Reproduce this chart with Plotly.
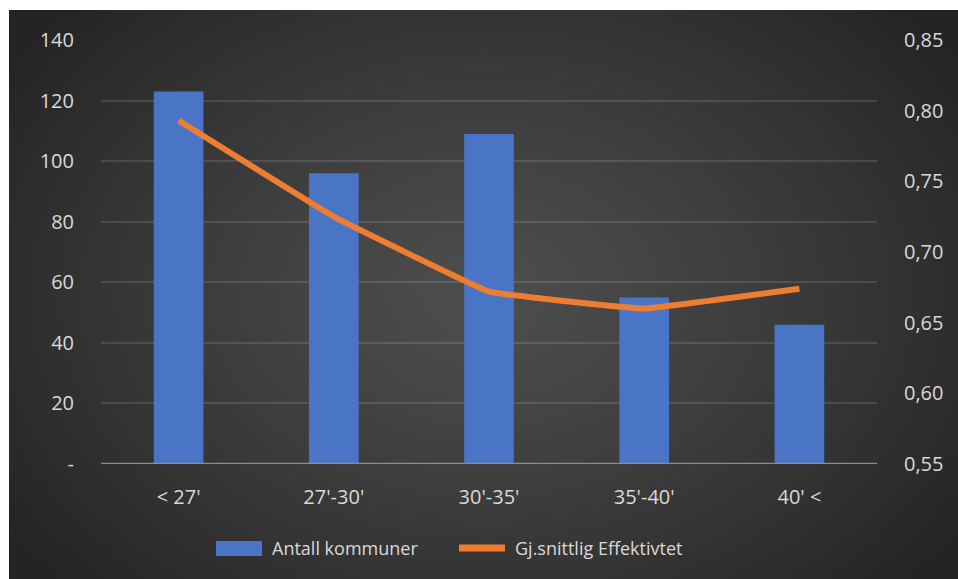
import base64, struct, zlib
import numpy as np
import plotly.graph_objects as go

categories = ["< 27'", "27'-30'", "30'-35'", "35'-40'", "40' <"]
antall_kommuner = [123, 96, 109, 55, 46]
effektivitet = [0.793, 0.725, 0.672, 0.660, 0.674]
left_ticks = [0, 20, 40, 60, 80, 100, 120, 140]
left_labels = ["-", "20", "40", "60", "80", "100", "120", "140"]
right_ticks = [0.55, 0.60, 0.65, 0.70, 0.75, 0.80, 0.85]
right_labels = ["0,55", "0,60", "0,65", "0,70", "0,75", "0,80", "0,85"]
series_names = ["Antall kommuner", "Gj.snittlig Effektivtet"]
bar_color = "#4A75C7"
line_color = "#ED7D31"
text_color = "#D9D9D9"

W, H = 958, 579
L, R, T, B = 101, 81, 40, 115
PW, PH = W - L - R, H - T - B


def px(xp):
    return (xp - L) / PW


def py(yp):
    return (H - B - yp) / PH


def gradient_png(w, h):
    yy, xx = np.mgrid[0:h, 0:w]
    cx, cy = w * 0.5, h * 0.5
    r = np.sqrt(((xx - cx) / (w * 0.62)) ** 2 + ((yy - cy) / (h * 0.75)) ** 2)
    r = np.clip(r, 0, 1)
    c = 78 - (78 - 36) * r ** 1.2
    img = np.clip(c, 0, 255).astype(np.uint8)
    rows = b"".join(b"\x00" + bytes(np.repeat(img[i][:, None], 3, axis=1).flatten()) for i in range(h))

    def chunk(t, d):
        return struct.pack(">I", len(d)) + t + d + struct.pack(">I", zlib.crc32(t + d) & 0xffffffff)
    png = b"\x89PNG\r\n\x1a\n" + chunk(b"IHDR", struct.pack(">IIBBBBB", w, h, 8, 2, 0, 0, 0)) \
        + chunk(b"IDAT", zlib.compress(rows, 9)) + chunk(b"IEND", b"")
    return "data:image/png;base64," + base64.b64encode(png).decode()


bg_x0, bg_y0 = 9, 10
bg = gradient_png(240, 144)

fig = go.Figure()
fig.add_trace(go.Bar(
    x=categories, y=antall_kommuner, name=series_names[0],
    marker=dict(color=bar_color, line=dict(width=0)), width=0.32, yaxis="y",
    showlegend=False,
))
fig.add_trace(go.Scatter(
    x=categories, y=effektivitet, name=series_names[1], mode="lines",
    line=dict(color=line_color, width=6, shape="spline", smoothing=0.2), yaxis="y2",
    showlegend=False,
))

font = "Open Sans, Noto Sans, sans-serif"
legend_y = 548
legend_size = 18
fig.update_layout(
    width=W, height=H,
    margin=dict(l=L, r=R, t=T, b=B),
    paper_bgcolor="white", plot_bgcolor="rgba(0,0,0,0)",
    font=dict(family=font, size=20, color=text_color),
    images=[dict(
        source=bg, xref="paper", yref="paper",
        x=px(bg_x0), y=py(bg_y0),
        sizex=(W - bg_x0) / PW, sizey=(H - bg_y0) / PH,
        xanchor="left", yanchor="top", sizing="stretch", layer="below",
    )],
    xaxis=dict(showgrid=False, ticks="", ticklabelstandoff=19, tickfont=dict(size=20, color=text_color),
               showline=False, zeroline=False),
    yaxis=dict(range=[0, 140], tickvals=left_ticks, ticktext=left_labels,
               showgrid=True, gridcolor="rgba(255,255,255,0.12)", gridwidth=1.5,
               zeroline=False, showline=False, ticks="", ticklabelstandoff=26,
               tickfont=dict(size=20, color=text_color)),
    yaxis2=dict(range=[0.55, 0.85], tickvals=right_ticks, ticktext=right_labels,
                overlaying="y", side="right", showgrid=False, zeroline=False,
                ticks="", ticklabelstandoff=26, tickfont=dict(size=20, color=text_color)),
    showlegend=False,
    shapes=[
        dict(type="line", xref="paper", yref="y", x0=0, x1=1, y0=0, y1=0,
             line=dict(color="#8C8C8C", width=2.5), layer="above"),
        dict(type="rect", xref="paper", yref="paper", x0=px(216), x1=px(262),
             y0=py(541), y1=py(556), fillcolor=bar_color, line=dict(width=0)),
        dict(type="line", xref="paper", yref="paper", x0=px(459), x1=px(505),
             y0=py(legend_y), y1=py(legend_y), line=dict(color=line_color, width=7)),
    ],
    annotations=[
        dict(text=series_names[0], xref="paper", yref="paper", x=px(270), y=py(legend_y),
             xanchor="left", yanchor="middle", showarrow=False,
             font=dict(size=legend_size, color=text_color)),
        dict(text=series_names[1], xref="paper", yref="paper", x=px(513), y=py(legend_y),
             xanchor="left", yanchor="middle", showarrow=False,
             font=dict(size=legend_size, color=text_color)),
    ],
)

fig.write_html("out.html")
